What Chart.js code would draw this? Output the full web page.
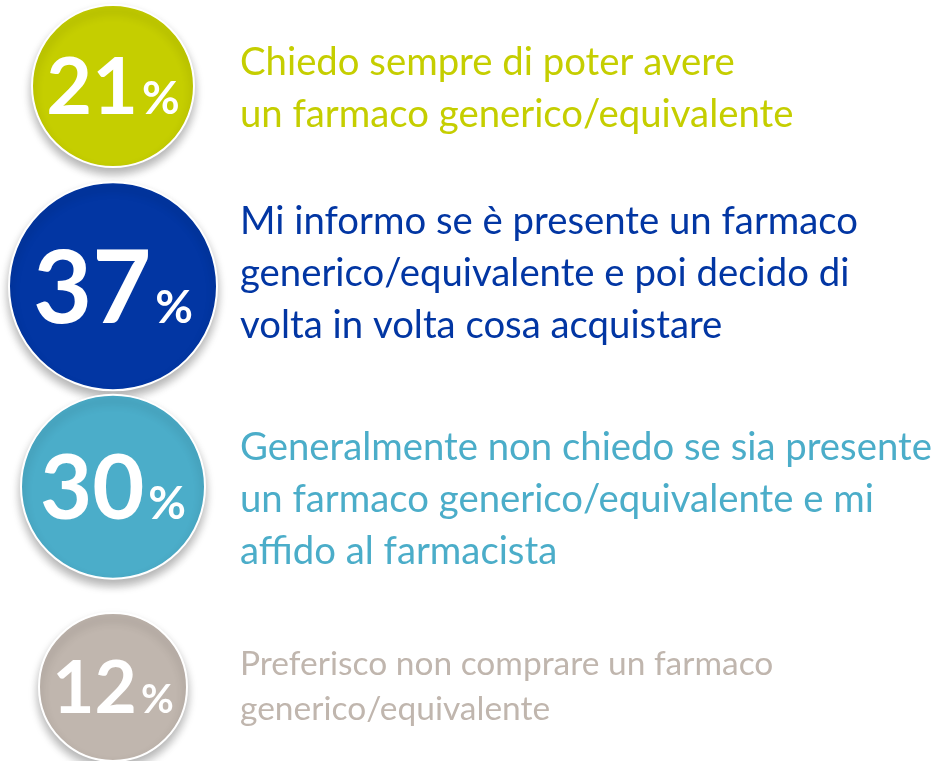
<!DOCTYPE html>
<html>
<head>
<meta charset="utf-8">
<script src="https://cdn.jsdelivr.net/npm/chart.js@4.4.1/dist/chart.umd.min.js"></script>
<style>
    html, body { margin: 0; padding: 0; background: #ffffff; }
    #wrap { width: 942px; height: 761px; }
</style>
</head>
<body>
<div id="wrap"><canvas id="Chart1"></canvas></div>
<script>
// answers, top to bottom (one entry per line of text)
const answers = [
    ['Chiedo sempre di poter avere', 'un farmaco generico/equivalente'],
    ['Mi informo se è presente un farmaco', 'generico/equivalente e poi decido di', 'volta in volta cosa acquistare'],
    ['Generalmente non chiedo se sia presente', 'un farmaco generico/equivalente e mi', 'affido al farmacista'],
    ['Preferisco non comprare un farmaco', 'generico/equivalente']
];
// share of respondents, %
const shares = [21, 37, 30, 12];
const categories = answers.map(a => a.join(' '));

// styles
const colors = ['#c5ce00', '#0236a3', '#4badc9', '#c0b6ae'];
const bubbleRadius = [81, 104, 92, 74];
const textSize = [38.3, 38.3, 38.3, 33.5];
const lineHeight = [52, 52, 52, 45];
const textShift = [3, -13, 13, 0];

// percent labels inside the bubbles + answer text on the right
const bubbleText = {
    id: 'bubbleText',
    afterDatasetsDraw(chart) {
        const ctx = chart.ctx;
        const meta = chart.getDatasetMeta(0);
        meta.data.forEach((pt, i) => {
            const r = pt.options.radius;
            const numSize = Math.round(r * 0.98);
            const pctSize = i === 3 ? 40 : 46;
            ctx.save();
            ctx.fillStyle = '#ffffff';
            ctx.textBaseline = 'alphabetic';
            ctx.textAlign = 'left';
            const num = String(shares[i]);
            ctx.font = 'bold ' + numSize + 'px Lato';
            const wNum = ctx.measureText(num).width;
            ctx.font = 'bold ' + pctSize + 'px Lato';
            const wPct = ctx.measureText('%').width;
            const gap = 4;
            let x = pt.x - (wNum + gap + wPct) / 2;
            const base = pt.y + numSize * 0.36;
            ctx.font = 'bold ' + numSize + 'px Lato';
            ctx.fillText(num, x, base);
            ctx.font = 'bold ' + pctSize + 'px Lato';
            ctx.fillText('%', x + wNum + gap, base);

            // answer text
            const lines = answers[i];
            ctx.fillStyle = colors[i];
            ctx.font = textSize[i] + 'px Lato';
            ctx.textBaseline = 'middle';
            const lh = lineHeight[i];
            let y = pt.y + textShift[i] - (lines.length - 1) * lh / 2;
            lines.forEach(line => {
                ctx.fillText(line, 240, y);
                y += lh;
            });
            ctx.restore();
        });
    }
};

// soft drop shadow under the bubbles
const bubbleShadow = {
    id: 'bubbleShadow',
    beforeDatasetDraw(chart) {
        const ctx = chart.ctx;
        ctx.save();
        ctx.shadowColor = 'rgba(0, 0, 0, 0.3)';
        ctx.shadowBlur = 10;
        ctx.shadowOffsetX = 0;
        ctx.shadowOffsetY = 6;
    },
    afterDatasetDraw(chart) {
        chart.ctx.restore();
    }
};

const ctx1 = document.getElementById('Chart1').getContext('2d');
const chart1 = new Chart(ctx1, {
    type: 'bubble',
    data: {
        datasets: [
            {
                label: 'Risposte',
                data: shares.map((v, i) => ({ x: 0, y: i })),
                backgroundColor: colors,
                borderColor: '#ffffff',
                borderWidth: 2,
                radius: ctx => bubbleRadius[ctx.dataIndex],
                clip: false,
            },
        ],
    },
    options: {
        responsive: true,
        maintainAspectRatio: false,
        animation: false,
        events: [],
        layout: {
            autoPadding: false,
            padding: { top: 86, bottom: 74, left: 113, right: 20 },
        },
        plugins: {
            legend: { display: false },
            tooltip: { enabled: false },
        },
        scales: {
            x: { type: 'linear', min: 0, max: 1, display: false },
            y: { type: 'category', labels: categories, offset: false, display: false },
        },
    },
    plugins: [bubbleShadow, bubbleText],
});
</script>
</body>
</html>
